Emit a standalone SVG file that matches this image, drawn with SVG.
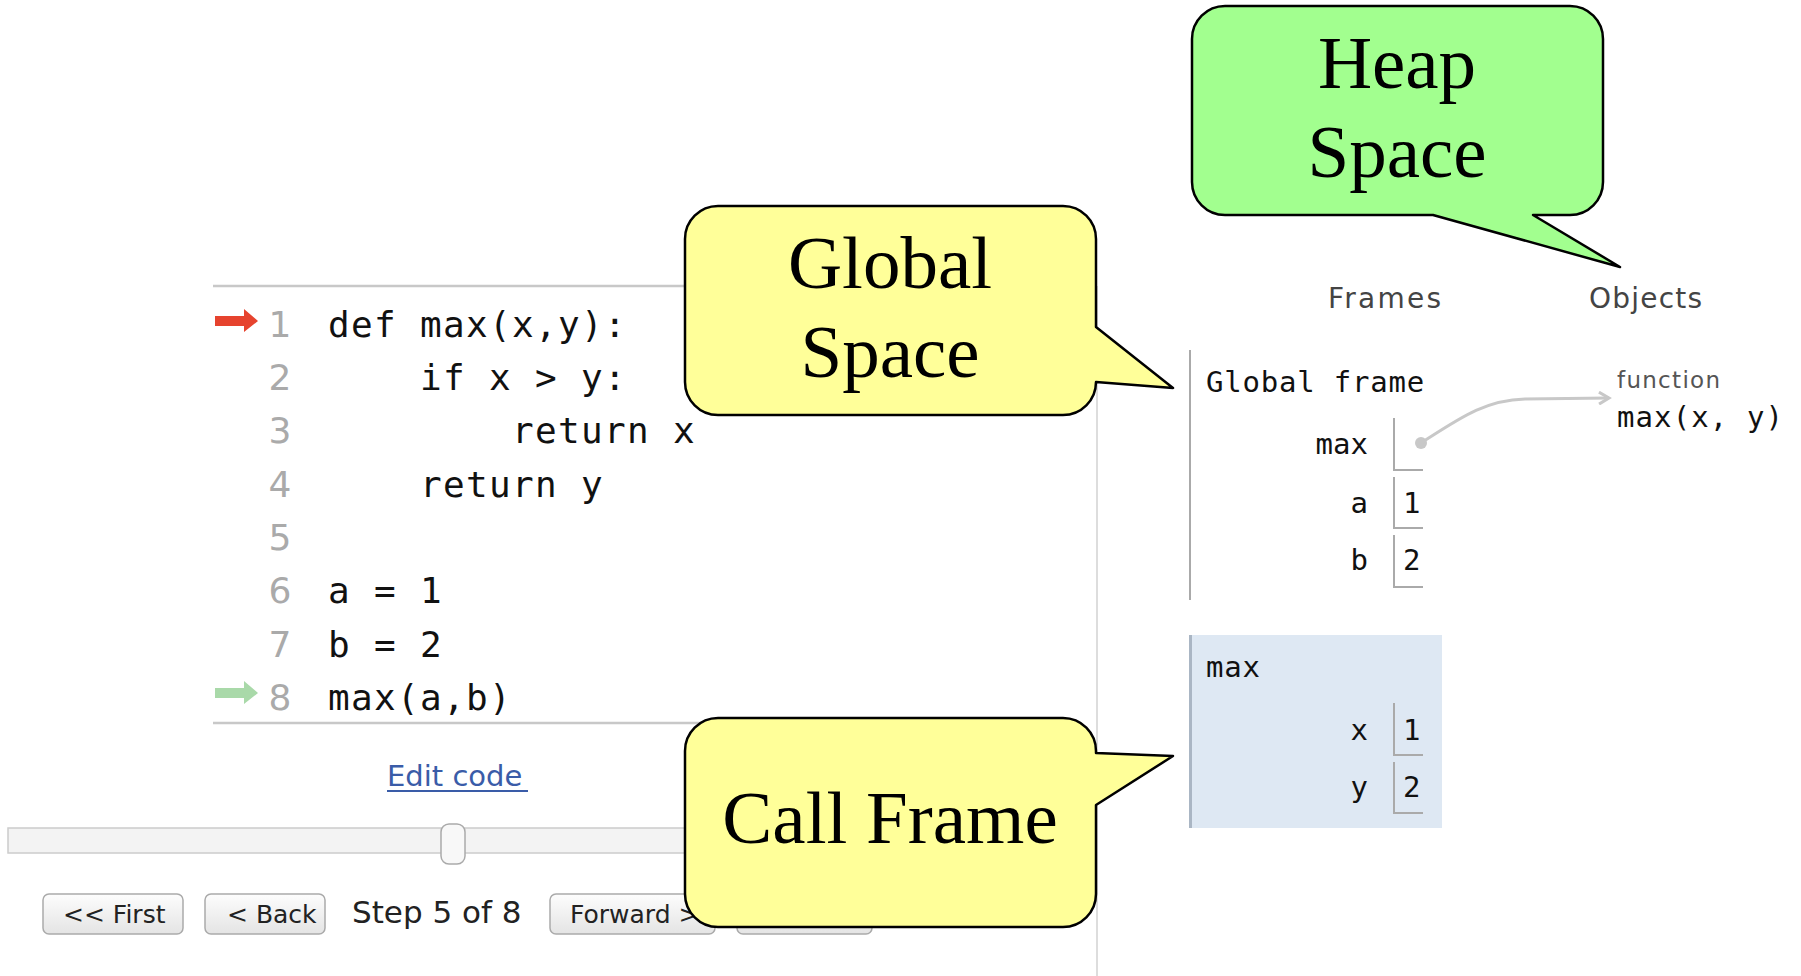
<svg xmlns="http://www.w3.org/2000/svg" width="1801" height="976" viewBox="0 0 1801 976">
<style>
.code{font-family:"DejaVu Sans Mono","Liberation Mono",monospace;font-size:36px;letter-spacing:1.33px;fill:#111}
.ln{font-family:"DejaVu Sans","Liberation Sans",sans-serif;font-size:36px;fill:#aaa;text-anchor:middle}
.ui{font-family:"DejaVu Sans","Liberation Sans",sans-serif;fill:#222}
.btn{fill:url(#bg);stroke:#aaa;stroke-width:1.5}
.mono{font-family:"DejaVu Sans Mono","Liberation Mono",monospace;font-size:29px;letter-spacing:0.8px;fill:#111}
.var{font-family:"DejaVu Sans Mono","Liberation Mono",monospace;font-size:29px;fill:#111;text-anchor:end}
.box{fill:none;stroke:#aaa;stroke-width:2}
.bubble{stroke:#000;stroke-width:2.5;stroke-linejoin:round}
.btxt{font-family:"Liberation Serif","Times New Roman",serif;font-size:75px;fill:#000;text-anchor:middle}
</style>
<defs>
<linearGradient id="bg" x1="0" y1="0" x2="0" y2="1">
<stop offset="0" stop-color="#fdfdfd"/>
<stop offset="1" stop-color="#e4e4e4"/>
</linearGradient>
<marker id="ah" markerWidth="14" markerHeight="14" refX="11" refY="7" orient="auto" markerUnits="userSpaceOnUse">
<polyline points="1,1 11,7 1,13" fill="none" stroke="#c8c8c8" stroke-width="3"/>
</marker>
</defs>
<rect width="1801" height="976" fill="#fff"/>

<g id="code-panel">
<line x1="213" y1="286" x2="900" y2="286" stroke="#c8c8c8" stroke-width="2.5"/>
<line x1="213" y1="723" x2="900" y2="723" stroke="#c8c8c8" stroke-width="2.5"/>
<path d="M215,316 H244 V309 L258,321 L244,332 V326 H215 Z" fill="#e6432e"/>
<path d="M215,688 H244 V681 L258,693 L244,704 V698 H215 Z" fill="#a9d9a9"/>
<text class="ln" x="280" y="337">1</text>
<text class="ln" x="280" y="390">2</text>
<text class="ln" x="280" y="443">3</text>
<text class="ln" x="280" y="497">4</text>
<text class="ln" x="280" y="550">5</text>
<text class="ln" x="280" y="603">6</text>
<text class="ln" x="280" y="657">7</text>
<text class="ln" x="280" y="710">8</text>
<text class="code" x="328" y="337">def max(x,y):</text>
<text class="code" x="420" y="390">if x &gt; y:</text>
<text class="code" x="512" y="443">return x</text>
<text class="code" x="420" y="497">return y</text>
<text class="code" x="328" y="603">a = 1</text>
<text class="code" x="328" y="657">b = 2</text>
<text class="code" x="328" y="710">max(a,b)</text>
</g>

<g id="controls">
<text class="ui" x="387" y="786" font-size="29" style="fill:#3a5ca8">Edit code</text>
<line x1="387" y1="791" x2="528" y2="791" stroke="#3a5ca8" stroke-width="2"/>
<rect x="8" y="828" width="900" height="25" fill="#f3f3f3" stroke="#ccc" stroke-width="1.5"/>
<rect x="441" y="824" width="24" height="40" rx="8" fill="#f8f8f8" stroke="#aaa" stroke-width="1.5"/>
<rect class="btn" x="43" y="894" width="140" height="40" rx="6"/>
<text class="ui" x="63" y="923" font-size="25">&lt;&lt; First</text>
<rect class="btn" x="205" y="894" width="120" height="40" rx="6"/>
<text class="ui" x="227" y="923" font-size="25">&lt; Back</text>
<text class="ui" x="352" y="923" font-size="31">Step 5 of 8</text>
<rect class="btn" x="550" y="894" width="165" height="40" rx="6"/>
<text class="ui" x="570" y="923" font-size="25">Forward &gt;</text>
<rect class="btn" x="737" y="894" width="135" height="40" rx="6"/>
</g>

<line x1="1097" y1="286" x2="1097" y2="976" stroke="#ddd" stroke-width="2"/>

<g id="frames-header">
<text class="ui" x="1328" y="308" font-size="28" textLength="113" lengthAdjust="spacing" style="fill:#444">Frames</text>
<text class="ui" x="1589" y="308" font-size="28" textLength="113" lengthAdjust="spacing" style="fill:#444">Objects</text>
</g>

<g id="global-frame">
<line x1="1190" y1="350" x2="1190" y2="600" stroke="#aaa" stroke-width="2"/>
<text class="mono" x="1206" y="392">Global frame</text>
<text class="var" x="1368" y="454">max</text>
<path class="box" d="M1394,418 V470 H1423"/>
<circle cx="1421" cy="443" r="6" fill="#c8c8c8"/>
<text class="var" x="1368" y="513">a</text>
<path class="box" d="M1394,477 V528 H1423"/>
<text class="mono" x="1403" y="513">1</text>
<text class="var" x="1368" y="570">b</text>
<path class="box" d="M1394,535 V587 H1423"/>
<text class="mono" x="1403" y="570">2</text>
</g>

<g id="call-frame">
<rect x="1189" y="635" width="253" height="193" fill="#dee8f3"/>
<line x1="1190.5" y1="635" x2="1190.5" y2="828" stroke="#aab6c4" stroke-width="3"/>
<text class="mono" x="1206" y="677">max</text>
<text class="var" x="1368" y="740">x</text>
<path class="box" d="M1394,703 V755 H1423"/>
<text class="mono" x="1403" y="740">1</text>
<text class="var" x="1368" y="797">y</text>
<path class="box" d="M1394,762 V813 H1423"/>
<text class="mono" x="1403" y="797">2</text>
</g>

<g id="function-object">
<text class="ui" x="1617" y="388" font-size="23" textLength="103" lengthAdjust="spacing" style="fill:#555">function</text>
<text class="mono" x="1617" y="427" font-size="28" style="letter-spacing:1.1px">max(x, y)</text>
</g>

<g id="connectors">
<path d="M1421,443 C1460,418 1485,400 1525,399 L1609,398" fill="none" stroke="#c8c8c8" stroke-width="3" marker-end="url(#ah)"/>
</g>

<g id="global-space-bubble">
<path class="bubble" fill="#ffff99" d="M718,206 H1063 A33,33 0 0 1 1096,239 V327 L1173,388 L1096,382 A33,33 0 0 1 1063,415 H718 A33,33 0 0 1 685,382 V239 A33,33 0 0 1 718,206 Z"/>
<text class="btxt" x="890" y="288">Global</text>
<text class="btxt" x="890" y="377">Space</text>
</g>

<g id="heap-space-bubble">
<path class="bubble" fill="#a2ff8f" d="M1225,6 H1570 A33,33 0 0 1 1603,39 V182 A33,33 0 0 1 1570,215 H1533 L1620,267 L1433,215 H1225 A33,33 0 0 1 1192,182 V39 A33,33 0 0 1 1225,6 Z"/>
<text class="btxt" x="1397" y="88">Heap</text>
<text class="btxt" x="1397" y="177">Space</text>
</g>

<g id="call-frame-bubble">
<path class="bubble" fill="#ffff99" d="M718,718 H1063 A33,33 0 0 1 1096,751 V753 L1173,756 L1096,805 V894 A33,33 0 0 1 1063,927 H718 A33,33 0 0 1 685,894 V751 A33,33 0 0 1 718,718 Z"/>
<text class="btxt" x="890" y="843">Call Frame</text>
</g>
</svg>
